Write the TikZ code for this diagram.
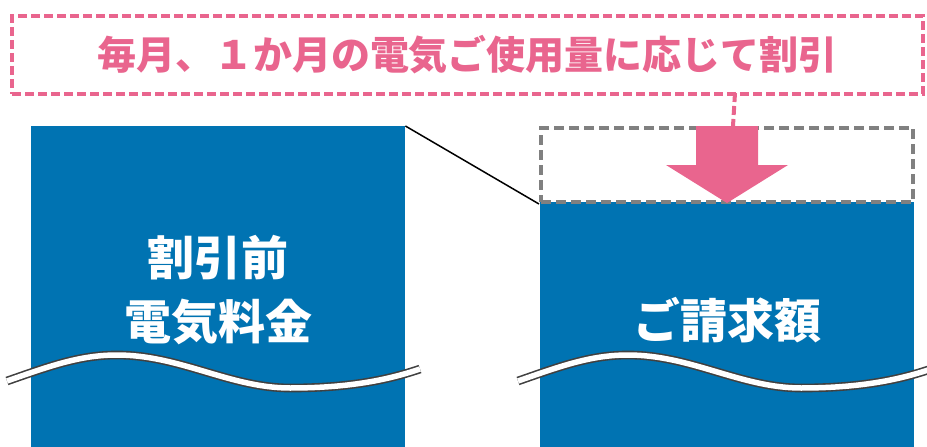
\documentclass[tikz,border=0pt]{standalone}
\usepackage{fontspec}
\newfontfamily\cjk{Noto Sans CJK JP}
\definecolor{billblue}{RGB}{0,115,178}
\definecolor{notepink}{RGB}{233,101,142}
\tikzset{
  bluebox/.style={fill=billblue,anchor=north west,inner sep=0pt},
  bigtext/.style={text=white,font=\cjk\bfseries\fontsize{47}{64}\selectfont,align=center},
  cutline/.style={draw=black!75,line width=1.6pt,double=white,double distance=5.5pt}
}
\begin{document}
\begin{tikzpicture}[x=1pt,y=-1pt]
      \useasboundingbox (0,0) rectangle (927,447);
      % blocks
      \node (before) [bluebox,minimum width=374pt,minimum height=321pt] at (31,126) {};
      \node (after) [bluebox,minimum width=374pt,minimum height=245pt] at (540,202) {};
      \node (saved) [draw=gray,line width=4pt,dash pattern=on 10pt off 5pt,
        minimum width=372pt,minimum height=74pt,anchor=north west] at (539,126) {};
      \draw [line width=1.5pt] (before.north east) -- (saved.south west);
      % note box
      \node (note) [draw=notepink,line width=4pt,dash pattern=on 9pt off 4pt,
        minimum width=911pt,minimum height=78pt,anchor=north west,
        text=notepink,font=\cjk\bfseries\fontsize{39}{39}\selectfont] at (10,14)
        {毎月、１か月の電気ご使用量に応じて割引};
      \coordinate (drop) at (735,93);
      \draw [notepink,line width=4pt,dash pattern=on 9pt off 4pt] (drop) -- (733,126);
      \fill [notepink] (696,126) -- (758,126) -- (758,165) -- (788,165) -- (727,203)
        -- (666,165) -- (696,165) -- cycle;
      % cut marks
      \def\wavepath{(7,381) .. controls (50,366) and (80,355) .. (117,355)
        .. controls (180,355) and (230,388) .. (290,388)
        .. controls (345,388) and (385,381) .. (420,369)}
      \draw [cutline] \wavepath;
      \draw [cutline,xshift=511pt] \wavepath;
      % labels
      \node (beforetext) [bigtext] at (before.north -| 218,0) [yshift=-164pt] {割引前\\電気料金};
      \node (aftertext) [bigtext] at (727,320) {ご請求額};
\end{tikzpicture}
\end{document}
